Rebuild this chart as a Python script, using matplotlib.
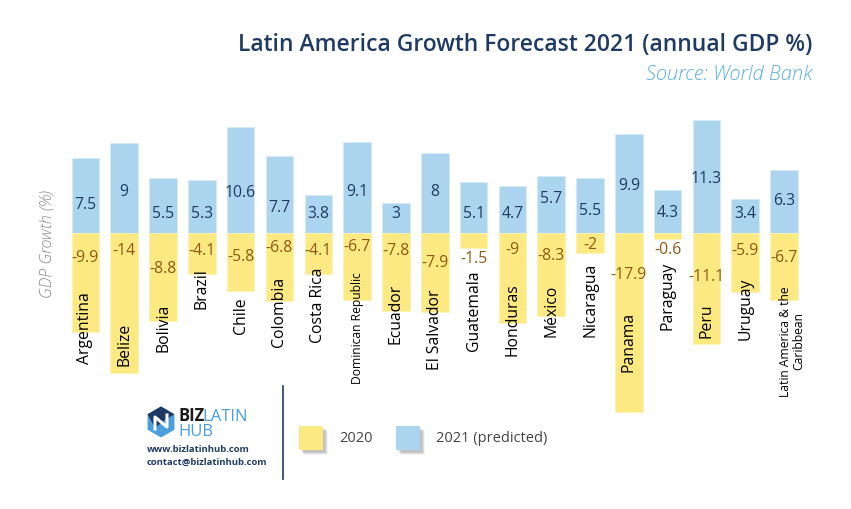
import matplotlib
matplotlib.use("Agg")
import matplotlib.pyplot as plt
from matplotlib.patches import Rectangle, Polygon
import numpy as np

# data
countries = ["Argentina", "Belize", "Bolivia", "Brazil", "Chile", "Colombia",
             "Costa Rica", "Dominican Republic", "Ecuador", "El Salvador",
             "Guatemala", "Honduras", "México", "Nicaragua", "Panama",
             "Paraguay", "Peru", "Uruguay", "Latin America & the\nCaribbean"]
gdp_2020 = [-9.9, -14, -8.8, -4.1, -5.8, -6.8, -4.1, -6.7, -7.8, -7.9,
            -1.5, -9, -8.3, -2, -17.9, -0.6, -11.1, -5.9, -6.7]
gdp_2021 = [7.5, 9, 5.5, 5.3, 10.6, 7.7, 3.8, 9.1, 3, 8,
            5.1, 4.7, 5.7, 5.5, 9.9, 4.3, 11.3, 3.4, 6.3]

# where the labels sit (data units), as in the original
lab21_y = [2.9, 4.2, 2.0, 2.0, 4.1, 2.6, 2.0, 4.2, 2.0, 4.2,
           2.0, 2.0, 3.5, 2.3, 4.8, 2.1, 5.5, 2.0, 3.3]
lab20_y = [-2.4, -1.7, -3.5, -1.7, -2.3, -1.4, -1.7, -1.3, -1.7, -2.9,
           -2.5, -1.6, -2.2, -1.1, -4.1, -1.6, -4.3, -1.7, -2.4]
name_y = [-9.4, -11.05, -9.35, -5.45, -8.2, -7.8, -7.1, -9.45, -8.0, -9.6,
          -7.65, -8.6, -7.7, -6.6, -10.75, -6.15, -8.7, -7.45, -10.75]

BLUE = "#abd4ee"
YELLOW = "#fde981"
NAVY = "#1f3b64"
BROWN = "#8c5a16"
FONT = "Open Sans"

W, H = 851, 510
fig = plt.figure(figsize=(W / 100, H / 100), dpi=100)


def fx(x):
    return x / W


def fy(y):
    return 1 - y / H


# main axes: zero line at y=234 px, 10 px per unit
ax = fig.add_axes([fx(66), fy(414), fx(803.5) - fx(66), fy(114) - fy(414)])
x = np.arange(len(countries))
ax.bar(x, gdp_2021, width=0.71, color=BLUE, edgecolor="#d6eaf7", linewidth=0.6)
ax.bar(x, gdp_2020, width=0.71, color=YELLOW, edgecolor="#fff3b5", linewidth=0.6)
ax.set_xlim(-0.5, len(countries) - 0.5)
ax.set_ylim(-18, 12)
ax.axis("off")

for i in range(len(countries)):
    ax.text(x[i], lab21_y[i], f"{gdp_2021[i]:g}", ha="center", va="center",
            color=NAVY, fontsize=11.3, family=FONT)
    ax.text(x[i], lab20_y[i], f"{gdp_2020[i]:g}", ha="center", va="center",
            color=BROWN, fontsize=11.3, family=FONT)
    small = len(countries[i]) > 12
    ax.text(x[i] + (0.2 if "\n" in countries[i] else 0), name_y[i], countries[i],
            rotation=90, ha="center", va="center", multialignment="center",
            color="black", fontsize=8.7 if small else 11.3, family=FONT,
            linespacing=1.0)

# titles
fig.text(fx(812), fy(45), "Latin America Growth Forecast 2021 (annual GDP %)",
         ha="right", va="center", color=NAVY, fontsize=16.5, family=FONT,
         weight="semibold")
fig.text(fx(812), fy(75), "Source: World Bank", ha="right", va="center",
         color="#5aaee0", fontsize=14.5, family=FONT, style="italic", weight="light")
fig.text(fx(48), fy(244), "GDP Growth (%)", rotation=90, ha="center", va="center",
         color="#8a8a8a", fontsize=11.5, family=FONT, style="italic", weight="light")

# legend with soft shadows
for x0, col, lab in [(299, YELLOW, "2020"), (396, BLUE, "2021 (predicted)")]:
    for k in range(6):
        fig.patches.append(Rectangle((fx(x0 + 2 + k * 0.6), fy(453 + k * 0.6)),
                                     24 / W, 24 / H, transform=fig.transFigure,
                                     color="black", alpha=0.045, lw=0))
    fig.patches.append(Rectangle((fx(x0), fy(451)), 24 / W, 24 / H,
                                 transform=fig.transFigure, color=col, lw=0))
    fig.text(fx(x0 + 40), fy(439), lab, ha="left", va="center", color="#444444",
             fontsize=10.5, family=FONT)

# separator
fig.add_artist(plt.Line2D([fx(283), fx(283)], [fy(387), fy(480)],
                          transform=fig.transFigure, color=NAVY, lw=1.2))

# logo
cx, cy, r = 161, 423, 15.5
ang = np.radians(np.arange(0, 360, 60) + 30)
hexpts = [(fx(cx + r * np.cos(a)), fy(cy + r * np.sin(a))) for a in ang]
fig.patches.append(Polygon(hexpts, closed=True, transform=fig.transFigure,
                           color="#4a9fdc", lw=0))
upper = [hexpts[3], hexpts[4], hexpts[5], (fx(cx + 4), fy(cy - 2)), (fx(cx - 6), fy(cy + 6))]
fig.patches.append(Polygon(upper, closed=True, transform=fig.transFigure,
                           color="#1f3b64", lw=0))
fig.add_artist(plt.Line2D([fx(cx - 6), fx(cx - 6), fx(cx + 6), fx(cx + 6)],
                          [fy(cy + 7), fy(cy - 5), fy(cy + 5), fy(cy - 7)],
                          transform=fig.transFigure, color="white", lw=2.2))
biz = fig.text(fx(178), fy(421), "BIZ", ha="left", va="baseline", color="#1a1a1a",
               fontsize=12, family=FONT, weight="bold")
fig.canvas.draw()
bb = biz.get_window_extent()
fig.text((bb.x1 - 1.5) / W, fy(421), "LATIN", ha="left", va="baseline",
         color="#4a9fdc", fontsize=12, family=FONT)
fig.text(fx(178), fy(436), "HUB", ha="left", va="baseline", color="#4a9fdc",
         fontsize=12, family=FONT)
fig.text(fx(147), fy(450), "www.bizlatinhub.com", ha="left", va="center",
         color=NAVY, fontsize=6.8, family=FONT, weight="bold")
fig.text(fx(147), fy(462), "contact@bizlatinhub.com", ha="left", va="center",
         color=NAVY, fontsize=6.8, family=FONT, weight="bold")

fig.savefig("out.png", dpi=100, facecolor="white")
